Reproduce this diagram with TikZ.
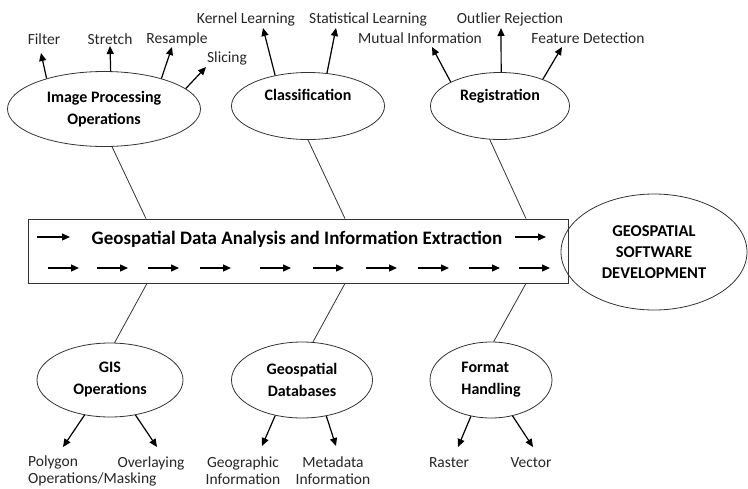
\documentclass[tikz,border=0pt]{standalone}
\usepackage{fontspec}
\setmainfont{Carlito}
\usetikzlibrary{shapes.geometric,arrows.meta}

\begin{document}
\begin{tikzpicture}[x=1pt,y=-1pt]
    \newcommand\fleche[2]{\draw[fl] (#1) -- (#2);}
    \newcommand\pfl[1]{\draw[fl] (#1,268) -- ++(31,0);}
    \tikzstyle{bulle}=[ellipse,draw=black!80,line width=.8pt,inner sep=0pt,align=center,
                       font=\bfseries\fontsize{16}{22}\selectfont]
    \tikzstyle{lbl}=[inner sep=0pt,text=black!85,font=\fontsize{15.5}{17}\selectfont]
    \tikzstyle{fl}=[-{Triangle[length=8pt,width=7pt]},line width=1.2pt]
    \tikzstyle{tr}=[draw=black!80,line width=.8pt]
    \useasboundingbox (0,0) rectangle (748,488);
    % axe central
    \node[draw=black!80,line width=.8pt,minimum width=540pt,minimum height=64pt] at (298,251) (axe) {};
    \node[font=\bfseries\fontsize{19}{22}\selectfont] at (297,239) (titre)
         {Geospatial Data Analysis and Information Extraction};
    \node[bulle,minimum width=186pt,minimum height=116pt,font=\bfseries\fontsize{16.5}{21}\selectfont]
         at (654,252) (geosw) {GEOSPATIAL\\SOFTWARE\\DEVELOPMENT};
    \draw[fl] (37,237) -- (70,237);
    \draw[fl] (515,237) -- (546,237);
    \pfl{48}\pfl{97}\pfl{148}\pfl{200}\pfl{260}\pfl{313}\pfl{366}\pfl{418}\pfl{469}\pfl{519}
    % ellipses du haut
    \node[bulle,minimum width=193pt,minimum height=75pt] at (104,109) (imgop) {Image Processing\\Operations};
    \node[bulle,minimum width=153pt,minimum height=67pt] at (308,106) (classif) {Classification\\~};
    \node[bulle,minimum width=139pt,minimum height=67pt] at (500,106) (regist) {Registration\\~};
    % ellipses du bas
    \node[bulle,minimum width=146pt,minimum height=74pt] at (110,380) (gis) {GIS\\Operations};
    \node[bulle,minimum width=141pt,minimum height=76pt] at (302,380) (geodb) {Geospatial\\Databases};
    \node[bulle,minimum width=122pt,minimum height=76pt,align=left] at (491,380) (format) {Format\\Handling};
    % traits vers l'axe
    \draw[tr] (imgop.282) -- (146,0 |- axe.north);
    \draw[tr] (classif.270) -- (345,0 |- axe.north);
    \draw[tr] (regist.253) -- (526,0 |- axe.north);
    \draw[tr] (gis.83) -- (147,0 |- axe.south);
    \draw[tr] (geodb.74) -- (345,0 |- axe.south);
    \draw[tr] (format.86) -- (526,0 |- axe.south);
    % etiquettes
    \node[lbl] at (44,39) (filter) {Filter};
    \node[lbl] at (110,39) (stretch) {Stretch};
    \node[lbl] at (177,39) (resample) {Resample};
    \node[lbl] at (227,58) (slicing) {Slicing};
    \node[lbl] at (246,19) (kernel) {Kernel Learning};
    \node[lbl] at (368,19) (statl) {Statistical Learning};
    \node[lbl] at (510,19) (outlier) {Outlier Rejection};
    \node[lbl] at (420,38) (mutual) {Mutual Information};
    \node[lbl] at (588,38) (feature) {Feature Detection};
    \node[lbl,align=left,anchor=west] at (28,471) (polygon) {Polygon\\Operations/Masking};
    \node[lbl] at (151,463) (overlay) {Overlaying};
    \node[lbl,align=center] at (243,471) (geoinf) {Geographic\\Information};
    \node[lbl,align=center] at (333,471) (metainf) {Metadata\\Information};
    \node[lbl] at (449,463) (raster) {Raster};
    \node[lbl] at (531,463) (vector) {Vector};
    % pointes des fleches
    \coordinate (tFil) at (41,53);   \coordinate (tStr) at (110,46);
    \coordinate (tRes) at (172,47);  \coordinate (tSli) at (206,67);
    \coordinate (tKer) at (263,28);  \coordinate (tSta) at (336,28);
    \coordinate (tMut) at (432,47);  \coordinate (tOut) at (501,28);
    \coordinate (tFea) at (562,47);  \coordinate (tPol) at (63,447);
    \coordinate (tOve) at (157,447); \coordinate (tGeo) at (262,446);
    \coordinate (tMet) at (336,446); \coordinate (tRas) at (458,447);
    \coordinate (tVec) at (533,447);
    \fleche{imgop.152}{tFil}\fleche{imgop.80}{tStr}\fleche{imgop.28}{tRes}\fleche{imgop.14}{tSli}
    \fleche{classif.137}{tKer}\fleche{classif.60}{tSta}
    \fleche{regist.154}{tMut}\fleche{regist.88}{tOut}\fleche{regist.32}{tFea}
    \fleche{gis.234}{tPol}\fleche{gis.306}{tOve}\fleche{geodb.233}{tGeo}\fleche{geodb.304}{tMet}
    \fleche{format.241}{tRas}\fleche{format.301}{tVec}
\end{tikzpicture}
\end{document}
